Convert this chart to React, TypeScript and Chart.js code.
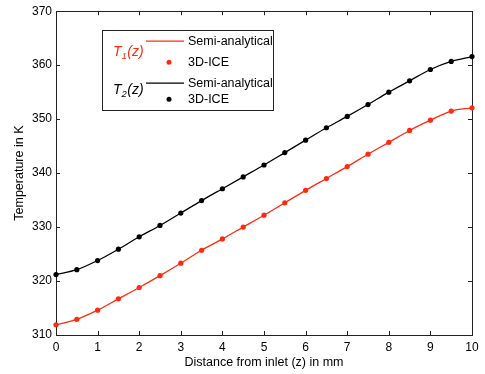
import React, { useEffect, useRef } from "react";
import { Chart, registerables } from "chart.js";

Chart.register(...registerables);

const zValues = [0, 0.5, 1, 1.5, 2, 2.5, 3, 3.5, 4, 4.5, 5, 5.5, 6, 6.5, 7, 7.5, 8, 8.5, 9, 9.5, 10];
const t1Values = [311.9, 312.9, 314.6, 316.7, 318.8, 321.0, 323.3, 325.7, 327.8, 330.0, 332.2, 334.5, 336.8, 339.0, 341.2, 343.5, 345.7, 347.9, 349.8, 351.5, 352.1];
const t2Values = [321.2, 322.1, 323.8, 325.9, 328.2, 330.3, 332.6, 334.9, 337.1, 339.3, 341.5, 343.8, 346.1, 348.4, 350.5, 352.7, 355.0, 357.1, 359.2, 360.7, 361.6];
const xTicks = [0, 1, 2, 3, 4, 5, 6, 7, 8, 9, 10];
const yTicks = [310, 320, 330, 340, 350, 360, 370];
const seriesLabels = ["Semi-analytical", "3D-ICE"];

const RED = "#ff2a10";
const BLACK = "#000000";
const FONT = "'Liberation Sans', Arial, sans-serif";

const framePlugin = {
  id: "frameTicks",
  beforeDatasetsDraw(chart: any) {
    const { ctx, chartArea } = chart;
    const { left, right, top, bottom } = chartArea;
    const xs = chart.scales.x;
    const ys = chart.scales.y;
    ctx.save();
    ctx.strokeStyle = "#222";
    ctx.lineWidth = 1;
    ctx.strokeRect(Math.round(left) + 0.5, Math.round(top) + 0.5, Math.round(right - left), Math.round(bottom - top));
    const tl = 4;
    ctx.beginPath();
    xTicks.forEach((v) => {
      const px = Math.round(xs.getPixelForValue(v)) + 0.5;
      ctx.moveTo(px, bottom);
      ctx.lineTo(px, bottom - tl);
      ctx.moveTo(px, top);
      ctx.lineTo(px, top + tl);
    });
    yTicks.forEach((v) => {
      const py = Math.round(ys.getPixelForValue(v)) + 0.5;
      ctx.moveTo(left, py);
      ctx.lineTo(left + tl, py);
      ctx.moveTo(right, py);
      ctx.lineTo(right - tl, py);
    });
    ctx.stroke();
    ctx.restore();
  },
};

function drawTLabel(ctx: CanvasRenderingContext2D, x: number, baseline: number, sub: string, color: string) {
  ctx.fillStyle = color;
  ctx.textBaseline = "alphabetic";
  ctx.textAlign = "left";
  ctx.font = `italic 14px ${FONT}`;
  ctx.fillText("T", x, baseline);
  let cx = x + ctx.measureText("T").width;
  ctx.font = `italic 9.5px ${FONT}`;
  ctx.fillText(sub, cx, baseline + 3);
  cx += ctx.measureText(sub).width + 0.5;
  ctx.font = `italic 14px ${FONT}`;
  ctx.fillText("(z)", cx, baseline);
}

const legendPlugin = {
  id: "customLegend",
  afterDraw(chart: any) {
    const { ctx, chartArea } = chart;
    const ox = chartArea.left;
    const oy = chartArea.top;
    const bx = ox + 46;
    const by = oy + 19;
    const bw = 171;
    const bh = 80;
    ctx.save();
    ctx.fillStyle = "#fff";
    ctx.fillRect(bx, by, bw, bh);
    ctx.strokeStyle = "#222";
    ctx.lineWidth = 1;
    ctx.strokeRect(Math.round(bx) + 0.5, Math.round(by) + 0.5, bw, bh);

    const rows = [
      { y: by + 11, color: RED, kind: "line", text: seriesLabels[0] },
      { y: by + 32, color: RED, kind: "dot", text: seriesLabels[1] },
      { y: by + 53, color: BLACK, kind: "line", text: seriesLabels[0] },
      { y: by + 69, color: BLACK, kind: "dot", text: seriesLabels[1] },
    ];
    rows.forEach((r) => {
      if (r.kind === "line") {
        ctx.strokeStyle = r.color;
        ctx.lineWidth = 1.3;
        ctx.beginPath();
        ctx.moveTo(bx + 44, r.y);
        ctx.lineTo(bx + 82, r.y);
        ctx.stroke();
      } else {
        ctx.fillStyle = r.color;
        ctx.beginPath();
        ctx.arc(bx + 67, r.y, 2.5, 0, Math.PI * 2);
        ctx.fill();
      }
      ctx.fillStyle = "#000";
      ctx.font = `12.5px ${FONT}`;
      ctx.textAlign = "left";
      ctx.textBaseline = "middle";
      ctx.fillText(r.text, bx + 86, r.y);
    });
    drawTLabel(ctx, bx + 11, by + 25.5, "1", RED);
    drawTLabel(ctx, bx + 11, by + 63.5, "2", BLACK);
    ctx.restore();
  },
};

export default function App() {
  const canvasRef = useRef<HTMLCanvasElement | null>(null);

  useEffect(() => {
    document.body.style.margin = "0";
    const canvas = canvasRef.current;
    if (!canvas) return;
    const pts = (vals: number[]) => zValues.map((z, i) => ({ x: z, y: vals[i] }));
    const chart = new Chart(canvas, {
      type: "line",
      data: {
        datasets: [
          {
            label: "T1 " + seriesLabels[0],
            data: pts(t1Values),
            borderColor: RED,
            borderWidth: 1.3,
            pointRadius: 0,
            cubicInterpolationMode: "monotone",
            fill: false,
          },
          {
            label: "T1 " + seriesLabels[1],
            data: pts(t1Values),
            showLine: false,
            pointRadius: 2.6,
            pointBackgroundColor: RED,
            pointBorderWidth: 0,
            borderColor: RED,
            clip: false,
          },
          {
            label: "T2 " + seriesLabels[0],
            data: pts(t2Values),
            borderColor: BLACK,
            borderWidth: 1.3,
            pointRadius: 0,
            cubicInterpolationMode: "monotone",
            fill: false,
          },
          {
            label: "T2 " + seriesLabels[1],
            data: pts(t2Values),
            showLine: false,
            pointRadius: 2.6,
            pointBackgroundColor: BLACK,
            pointBorderWidth: 0,
            borderColor: BLACK,
            clip: false,
          },
        ] as any,
      },
      options: {
        animation: false,
        responsive: true,
        maintainAspectRatio: false,
        layout: { padding: { top: 5, right: 13, left: 0, bottom: 0 } },
        plugins: { legend: { display: false }, tooltip: { enabled: false } },
        scales: {
          x: {
            type: "linear",
            min: 0,
            max: 10,
            afterBuildTicks: (s: any) => {
              s.ticks = xTicks.map((v) => ({ value: v }));
            },
            ticks: { color: "#000", font: { size: 12, family: FONT }, padding: 5, maxRotation: 0 },
            grid: { display: false, drawTicks: false },
            border: { display: false },
            title: {
              display: true,
              text: "Distance from inlet (z) in mm",
              color: "#000",
              font: { size: 12.5, family: FONT },
              padding: { top: 0, bottom: 4 },
            },
            afterFit: (s: any) => {
              s.height = 39;
            },
          },
          y: {
            type: "linear",
            min: 310,
            max: 370,
            afterBuildTicks: (s: any) => {
              s.ticks = yTicks.map((v) => ({ value: v }));
            },
            ticks: { color: "#000", font: { size: 12, family: FONT }, padding: 4 },
            grid: { display: false, drawTicks: false },
            border: { display: false },
            title: {
              display: true,
              text: "Temperature in K",
              color: "#000",
              font: { size: 12.5, family: FONT },
              padding: { top: 12, bottom: 0 },
            },
            afterFit: (s: any) => {
              s.width = 56;
            },
          },
        },
      },
      plugins: [framePlugin, legendPlugin],
    });
    return () => chart.destroy();
  }, []);

  return (
    <div style={{ position: "absolute", left: 0, top: 0, width: 485, height: 374, background: "#fff" }}>
      <canvas ref={canvasRef} />
    </div>
  );
}
